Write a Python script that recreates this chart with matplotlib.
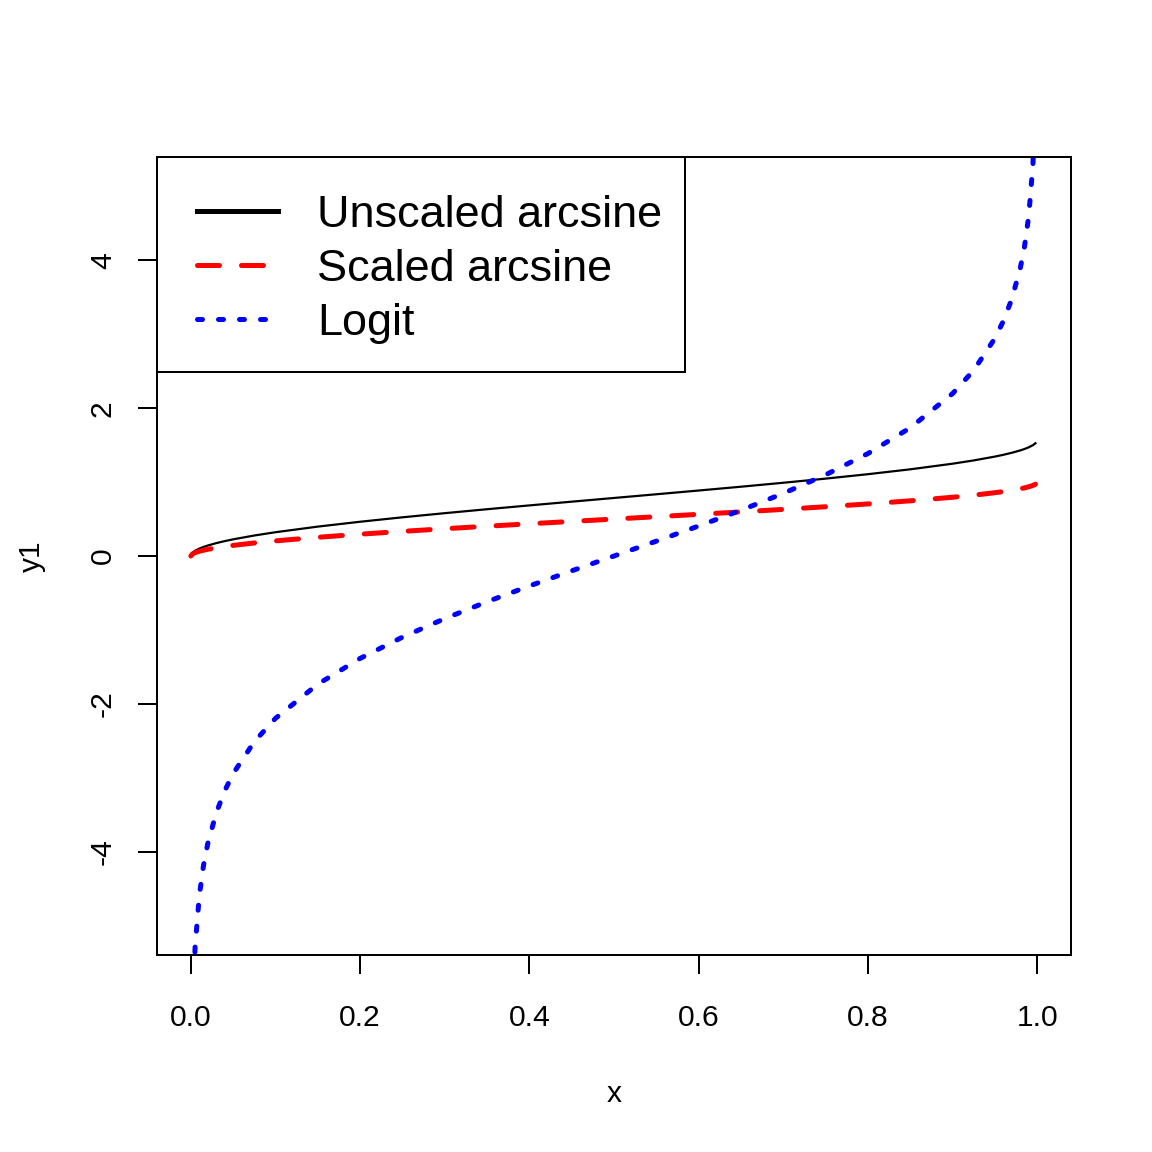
import matplotlib
matplotlib.use('Agg')
import matplotlib.pyplot as plt
from matplotlib.lines import Line2D
from matplotlib.patches import Rectangle
import numpy as np

plt.rcParams['font.family'] = ['Liberation Sans', 'DejaVu Sans']
plt.rcParams['lines.scale_dashes'] = False

# values
x = [0, 0.002, 0.005, 0.01, 0.015, 0.02, 0.03, 0.04, 0.05, 0.075, 0.1, 0.15, 0.2, 0.25,
     0.3, 0.35, 0.4, 0.45, 0.5, 0.55, 0.6, 0.65, 0.7, 0.75, 0.8, 0.85, 0.9, 0.925,
     0.95, 0.96, 0.97, 0.98, 0.985, 0.99, 0.995, 0.998]
unscaled = [0, 0.0447, 0.0708, 0.1002, 0.1228, 0.1419, 0.1741, 0.2014, 0.2255, 0.2774,
            0.3218, 0.3977, 0.4636, 0.5236, 0.5796, 0.6331, 0.6847, 0.7353, 0.7854,
            0.8355, 0.8861, 0.9377, 0.9912, 1.0472, 1.1071, 1.1731, 1.2490, 1.2934,
            1.3453, 1.3694, 1.3967, 1.4289, 1.4480, 1.4706, 1.5000, 1.5261]
scaled = [0, 0.0285, 0.0451, 0.0638, 0.0782, 0.0903, 0.1108, 0.1282, 0.1436, 0.1766,
          0.2048, 0.2532, 0.2952, 0.3333, 0.3690, 0.4030, 0.4359, 0.4681, 0.5,
          0.5319, 0.5641, 0.5970, 0.6310, 0.6667, 0.7048, 0.7468, 0.7952, 0.8234,
          0.8564, 0.8718, 0.8892, 0.9097, 0.9218, 0.9362, 0.9549, 0.9715]
logit = [np.nan, -6.2126, -5.2933, -4.5951, -4.1846, -3.8918, -3.4761, -3.1781, -2.9444,
         -2.5123, -2.1972, -1.7346, -1.3863, -1.0986, -0.8473, -0.6190, -0.4055, -0.2007,
         0.0, 0.2007, 0.4055, 0.6190, 0.8473, 1.0986, 1.3863, 1.7346, 2.1972, 2.5123,
         2.9444, 3.1781, 3.4761, 3.8918, 4.1846, 4.5951, 5.2933, 6.2126]

labels = ['Unscaled arcsine', 'Scaled arcsine', 'Logit']
xticks = [0.0, 0.2, 0.4, 0.6, 0.8, 1.0]
yticks = [-4, -2, 0, 2, 4]

dash = (22, 22)
dot = (5, 16)

fig = plt.figure(figsize=(16, 16), dpi=72)
ax = fig.add_axes([157/1152, 1 - 955/1152, 914/1152, 798/1152])

ax.plot(x, unscaled, color='black', lw=2.2)
ax.plot(x, scaled, color='red', lw=5, dashes=dash, dash_capstyle='round')
ax.plot(x, logit, color='blue', lw=5, dashes=dot, dash_capstyle='round')

ax.set_xlim(-0.04, 1.04)
ax.set_ylim(-5.4, 5.4)
ax.set_xticks(xticks)
ax.set_xticklabels(['%.1f' % v for v in xticks])
ax.set_yticks(yticks)
ax.set_yticklabels([str(v) for v in yticks], rotation=90, va='center')
ax.tick_params(labelsize=30, width=2, length=19)
ax.tick_params(axis='x', pad=30)
ax.tick_params(axis='y', pad=21)
for s in ax.spines.values():
    s.set_linewidth(2)

fig.text(614/1152, 1 - 1094/1152, 'x', fontsize=30, ha='center', va='center')
fig.text(32/1152, 1 - 556/1152, 'y1', fontsize=30, ha='center', va='center', rotation=90)

# legend
ax.add_patch(Rectangle((0, (955 - 372)/798), (685 - 157)/914, 1 - (955 - 372)/798,
                       transform=ax.transAxes, fill=False, lw=2, ec='black',
                       clip_on=False, zorder=5))
handles = [Line2D([], [], color='black', lw=5),
           Line2D([], [], color='red', lw=5, dashes=dash, dash_capstyle='round'),
           Line2D([], [], color='blue', lw=5, dashes=dot, dash_capstyle='round')]
ax.legend(handles, labels, loc='upper left', frameon=False, fontsize=45,
          bbox_to_anchor=(197/1152, 1 - 195/1152), bbox_transform=fig.transFigure,
          borderpad=0, borderaxespad=0, handlelength=1.8, handletextpad=0.87,
          labelspacing=0.29)

fig.savefig('out.png', dpi=72, facecolor='white')
